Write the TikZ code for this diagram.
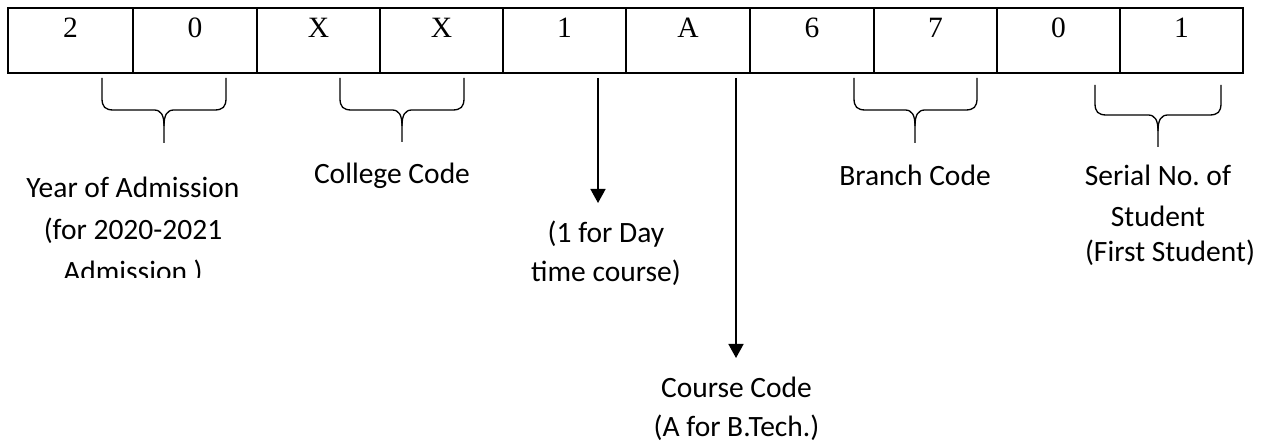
\documentclass[tikz,border=0pt]{standalone}
\usepackage{fontspec}
\setmainfont{Carlito}
\newfontfamily\cellfont{Liberation Serif}
\usetikzlibrary{arrows.meta}
\frenchspacing
\newcommand\codebrace[6]{%
  \draw[bracestyle] (#1,#4) -- ({#1},{#5-12}) .. controls ({#1},{#5-3}) and ({#1+3},{#5}) .. ({#1+12},{#5})
     -- ({#2-10},{#5}) .. controls ({#2-3},{#5}) and ({#2},{#5+5}) .. ({#2},{#5+16}) -- (#2,#6);
  \draw[bracestyle] (#3,#4) -- ({#3},{#5-12}) .. controls ({#3},{#5-3}) and ({#3-3},{#5}) .. ({#3-12},{#5})
     -- ({#2+10},{#5}) .. controls ({#2+3},{#5}) and ({#2},{#5+5}) .. ({#2},{#5+16});
}
\begin{document}
\begin{tikzpicture}[x=1bp,y=-1bp,
  cellbox/.style={draw, line width=1.7bp, minimum height=65bp, inner sep=0pt},
  digit/.style={anchor=base, inner sep=0pt, font=\cellfont\fontsize{29.5bp}{30bp}\selectfont},
  lbl/.style={anchor=base, inner sep=0pt, align=center, font=\fontsize{29.5bp}{41bp}\selectfont},
  bracestyle/.style={line width=1.3bp, line join=round},
  pointer/.style={line width=1.6bp, -{Triangle[width=15bp,length=14bp]}}]
\useasboundingbox (0,0) rectangle (1266,448);
% cells
\foreach \i/\cx/\w/\t in {1/70.5/125/2, 2/195/124/0, 3/318.5/123/X, 4/441.5/123/X, 5/564.5/123/1,
    6/688/124/A, 7/812/124/6, 8/935.5/123/7, 9/1058.5/123/0, 10/1181.5/123/1}{
  \node[cellbox, minimum width=\w bp] (c\i) at (\cx,40.5) {};
  \node[digit] (t\i) at (\cx,37.5) {\t};
}
% braces
\codebrace{102}{164}{226}{78}{110}{143}
\codebrace{340}{402}{464}{78}{110}{142}
\codebrace{854}{915}{977}{78}{110}{143}
\codebrace{1095}{1158}{1221}{85}{115}{147}
% arrows
\coordinate (a1s) at (598,78);
\coordinate (a1e) at (598,203);
\coordinate (a2s) at (736,78);
\coordinate (a2e) at (736,358);
\draw[pointer] (a1s) -- (a1e);
\draw[pointer] (a2s) -- (a2e);
% labels (anchor base = baseline of the last line)
\begin{scope}
\clip (0,0) rectangle (1266,278);
\node[lbl, font=\fontsize{29.5bp}{42bp}\selectfont] (year) at (133,282) {Year of Admission\\(for 2020-2021\\Admission )};
\end{scope}
\node[lbl] (college) at (392,184) {College Code};
\node[lbl, font=\fontsize{29.5bp}{39bp}\selectfont] (day) at (606,282) {(1 for Day\\time course)};
\node[lbl, font=\fontsize{29.5bp}{39bp}\selectfont] (course) at (736.5,437) {Course Code\\(A for B.Tech.)};
\node[lbl] (branch) at (915,186) {Branch Code};
\node[lbl] (serial) at (1158,262) {Serial No. of\\Student\\[-6bp]\hspace*{24bp}(First Student)};
\end{tikzpicture}
\end{document}
